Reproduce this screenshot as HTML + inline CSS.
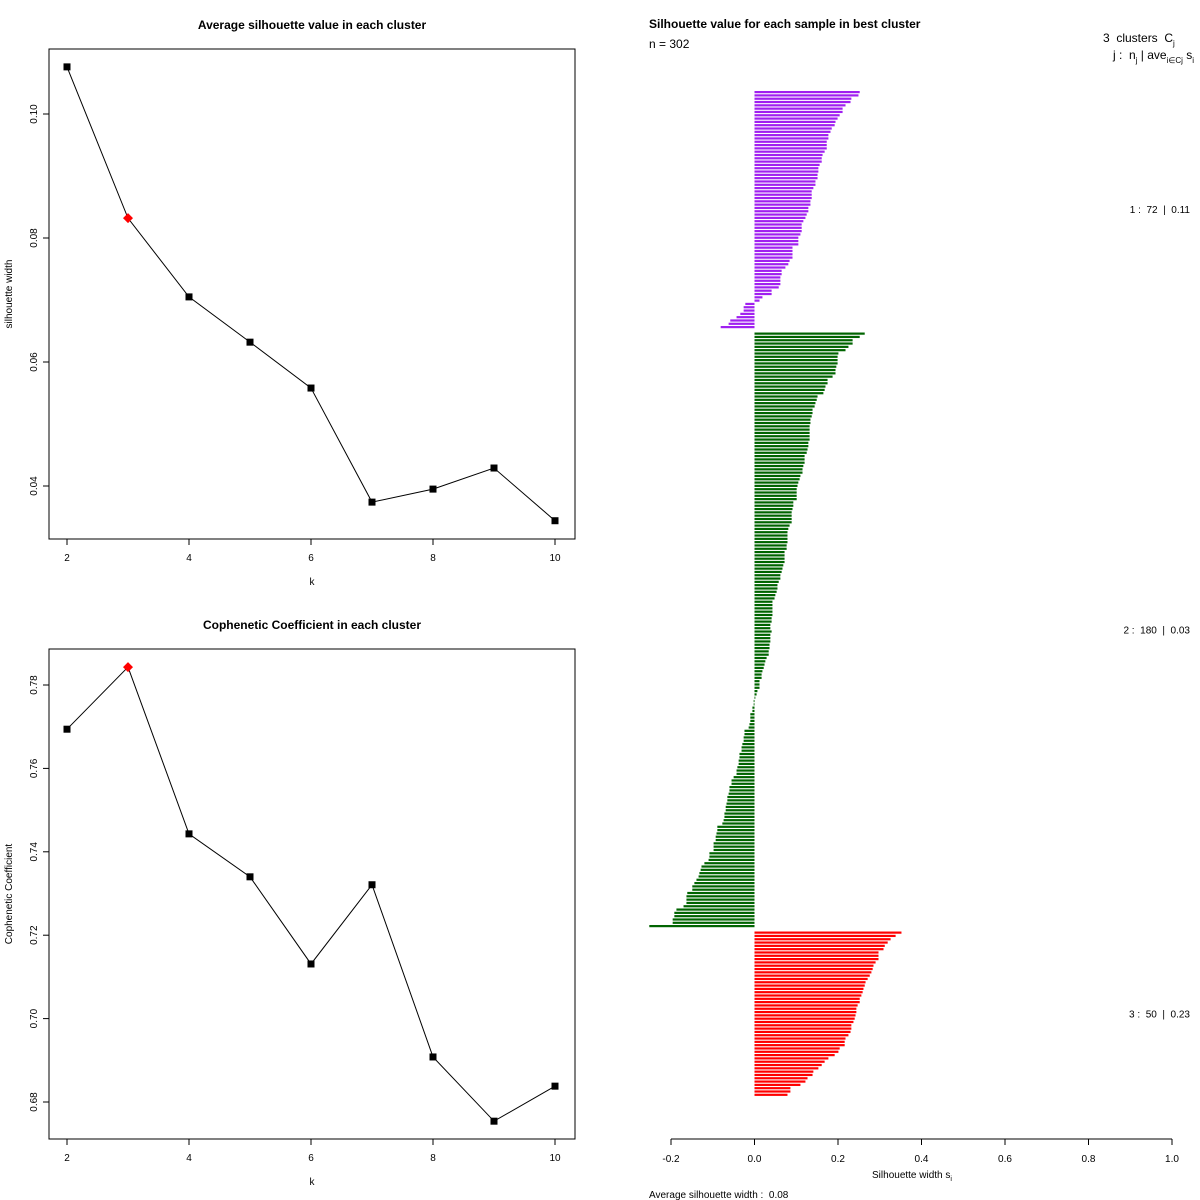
<!DOCTYPE html>
<html><head><meta charset="utf-8"><style>
body{margin:0;background:#fff}
svg{display:block;font-family:"Liberation Sans",sans-serif}
.pre{white-space:pre}
</style></head><body>
<svg id="s" width="1200" height="1200" xmlns="http://www.w3.org/2000/svg"></svg>
<script>
const kVals = [2,3,4,5,6,7,8,9,10];
const silAvg = [0.1076,0.0832,0.0705,0.0632,0.0558,0.0374,0.0395,0.0429,0.0344];
const silTicks = [0.04,0.06,0.08,0.10];
const copheVals = [0.7694,0.7843,0.7443,0.7340,0.7131,0.7321,0.6908,0.6754,0.6838];
const copheTicks = [0.68,0.70,0.72,0.74,0.76,0.78];
const kTicks = [2,4,6,8,10];
const bestK = 3;
const cluster1 = [.252,.249,.232,.230,.218,.211,.211,.204,.199,.194,.192,.185,.182,.177,.177,.173,.173,.173,.168,.163,.161,.161,.156,.153,.153,.151,.151,.146,.146,.141,.137,.137,.137,.134,.134,.129,.129,.125,.122,.117,.113,.113,.113,.110,.105,.105,.105,.091,.091,.091,.091,.084,.081,.074,.065,.065,.062,.062,.062,.058,.041,.041,.019,.012,-.022,-.026,-.026,-.034,-.043,-.058,-.062,-.081];
const cluster2 = [.264,.252,.235,.235,.225,.218,.201,.199,.199,.199,.196,.194,.194,.187,.175,.175,.170,.168,.165,.151,.149,.146,.144,.139,.139,.137,.134,.134,.132,.132,.132,.132,.132,.129,.129,.127,.125,.120,.120,.120,.117,.115,.115,.110,.108,.105,.103,.101,.101,.101,.101,.093,.093,.091,.089,.089,.089,.089,.084,.081,.079,.079,.079,.079,.077,.077,.072,.072,.072,.072,.069,.067,.065,.062,.062,.058,.055,.055,.053,.050,.048,.043,.043,.043,.043,.043,.041,.041,.038,.038,.041,.038,.038,.038,.036,.036,.034,.034,.029,.026,.024,.022,.019,.017,.017,.012,.012,.012,.007,.005,.002,
-.002,-.002,-.005,-.005,-.010,-.010,-.010,-.012,-.014,-.024,-.024,-.026,-.026,-.029,-.031,-.031,-.036,-.036,-.038,-.038,-.041,-.043,-.043,-.050,-.055,-.055,-.060,-.060,-.062,-.065,-.065,-.067,-.069,-.069,-.072,-.072,-.074,-.077,-.089,-.089,-.091,-.093,-.093,-.098,-.098,-.098,-.108,-.108,-.110,-.120,-.127,-.129,-.132,-.134,-.139,-.144,-.149,-.149,-.161,-.163,-.163,-.163,-.170,-.187,-.192,-.192,-.196,-.196,-.252];
const cluster3 = [.352,.338,.326,.319,.312,.309,.297,.297,.297,.290,.285,.283,.280,.276,.271,.266,.264,.261,.259,.256,.252,.252,.247,.244,.244,.242,.240,.237,.232,.232,.230,.225,.218,.216,.216,.204,.201,.192,.177,.168,.161,.153,.141,.139,.127,.122,.110,.086,.086,.079];
const clusterLabels = ["1 :  72  |  0.11","2 :  180  |  0.03","3 :  50  |  0.23"];
const silXTicks = [-0.2,0.0,0.2,0.4,0.6,0.8,1.0];
const colors = ["#A020F0","#006400","#FF0000"];

const NS="http://www.w3.org/2000/svg";
const svg=document.getElementById('s');
function mk(tag,attrs,parent,name,text){
  const e=document.createElementNS(NS,tag);
  for(const k in attrs)e.setAttribute(k,attrs[k]);
  
  
  if(text!==undefined)e.textContent=text;
  (parent||svg).appendChild(e);return e;
}

function linePanel(opts){
  const g=mk('g',{},svg,opts.name);
  const {x0,x1,y0,y1,vals,ticks,title,ylab}=opts;
  const sx=k=>67+(k-2)*(555-67)/8;
  const sy=v=>opts.py0+(v-opts.pv0)*(opts.py1-opts.py0)/(opts.pv1-opts.pv0);
  mk('rect',{x:x0,y:y0,width:x1-x0,height:y1-y0,fill:'none',stroke:'#000','stroke-width':1},g,'plot-box');
  mk('text',{x:312,y:opts.ty,'text-anchor':'middle','font-size':12,'font-weight':'bold'},g,'chart-title',title);
  kTicks.forEach(k=>{
    mk('line',{x1:sx(k),y1:y1,x2:sx(k),y2:y1+6,stroke:'#000'},g,'x-tick');
    mk('text',{x:sx(k),y:y1+22,'text-anchor':'middle','font-size':10},g,'x-tick-label',k);
  });
  mk('text',{x:312,y:y1+46,'text-anchor':'middle','font-size':10},g,'x-axis-title','k');
  ticks.forEach(t=>{
    const y=sy(t);
    mk('line',{x1:x0,y1:y,x2:x0-6,y2:y,stroke:'#000'},g,'y-tick');
    mk('text',{x:37,y:y,'text-anchor':'middle','font-size':10,transform:`rotate(-90 37 ${y})`},g,'y-tick-label',t.toFixed(2));
  });
  const ym=(y0+y1)/2;
  mk('text',{x:12,y:ym,'text-anchor':'middle','font-size':10,transform:`rotate(-90 12 ${ym})`},g,'y-axis-title',ylab);
  const pts=kVals.map((k,i)=>sx(k)+','+sy(vals[i])).join(' ');
  mk('polyline',{points:pts,fill:'none',stroke:'#000','stroke-width':1},g,'series-line');
  kVals.forEach((k,i)=>{
    const x=sx(k),y=sy(vals[i]);
    if(k===bestK) mk('polygon',{points:`${x},${y-5} ${x+5},${y} ${x},${y+5} ${x-5},${y}`,fill:'#f00'},g,'best-k-marker');
    else mk('rect',{x:x-3.5,y:y-3.5,width:7,height:7,fill:'#000'},g,'point-marker');
  });
}
linePanel({name:'silhouette-panel',x0:49,x1:575,y0:49,y1:539,vals:silAvg,ticks:silTicks,title:'Average silhouette value in each cluster',ylab:'silhouette width',ty:29,py0:114,pv0:0.10,py1:486,pv1:0.04});
linePanel({name:'cophenetic-panel',x0:49,x1:575,y0:649,y1:1139,vals:copheVals,ticks:copheTicks,title:'Cophenetic Coefficient in each cluster',ylab:'Cophenetic Coefficient',ty:629,py0:685,pv0:0.78,py1:1102,pv1:0.68});

const g2=mk('g',{},svg,'silhouette-bar-panel');
const bx=v=>754.5+v*417.5;
const pitch=3.31, gap=3.2;
let y=91;
[cluster1,cluster2,cluster3].forEach((cl,ci)=>{
  const cg=mk('g',{},g2,'cluster-'+(ci+1)+'-bars');
  const ystart=y;
  cl.forEach(v=>{
    const xa=Math.min(bx(0),bx(v)), w=Math.abs(bx(v)-bx(0));
    mk('rect',{x:xa,y:y,width:Math.max(w,0.6),height:2.2,fill:colors[ci]},cg,'silhouette-bar');
    y+=pitch;
  });
  const ymid=(ystart+y)/2;
  mk('text',{x:1190,y:ymid+3,'text-anchor':'end','font-size':10,class:'pre'},g2,'cluster-label',clusterLabels[ci]);
  y+=gap;
});
mk('line',{x1:bx(-0.2),y1:1139,x2:bx(1.0),y2:1139,stroke:'#000'},g2,'x-axis-line');
silXTicks.forEach(t=>{
  mk('line',{x1:bx(t),y1:1139,x2:bx(t),y2:1145,stroke:'#000'},g2,'x-tick');
  mk('text',{x:bx(t),y:1162,'text-anchor':'middle','font-size':10},g2,'x-tick-label',t.toFixed(1));
});
const xt=mk('text',{x:912,y:1178,'text-anchor':'middle','font-size':10},g2,'x-axis-title','Silhouette width s');
mk('tspan',{'font-size':7,dy:3},xt,'subscript','i');
mk('text',{x:649,y:1198,'font-size':10,class:'pre'},g2,'average-silhouette-note','Average silhouette width :  0.08');
mk('text',{x:649,y:28,'font-size':12,'font-weight':'bold'},g2,'chart-title','Silhouette value for each sample in best cluster');
mk('text',{x:649,y:48,'font-size':12},g2,'sample-count','n = 302');
const h1=mk('text',{x:1103,y:42,'font-size':12,class:'pre'},g2,'legend-header','3  clusters  C');
mk('tspan',{'font-size':8,dy:4},h1,'subscript','j');
const h2=mk('text',{x:1113,y:59,'font-size':12,class:'pre'},g2,'legend-subheader','j :  n');
mk('tspan',{'font-size':8,dy:4},h2,'subscript','j');
mk('tspan',{dy:-4},h2,'text',' | ave');
mk('tspan',{'font-size':8,dy:4},h2,'subscript','i∈Cj');
mk('tspan',{dy:-4},h2,'text',' s');
mk('tspan',{'font-size':8,dy:4},h2,'subscript','i');
</script>
</body></html>
